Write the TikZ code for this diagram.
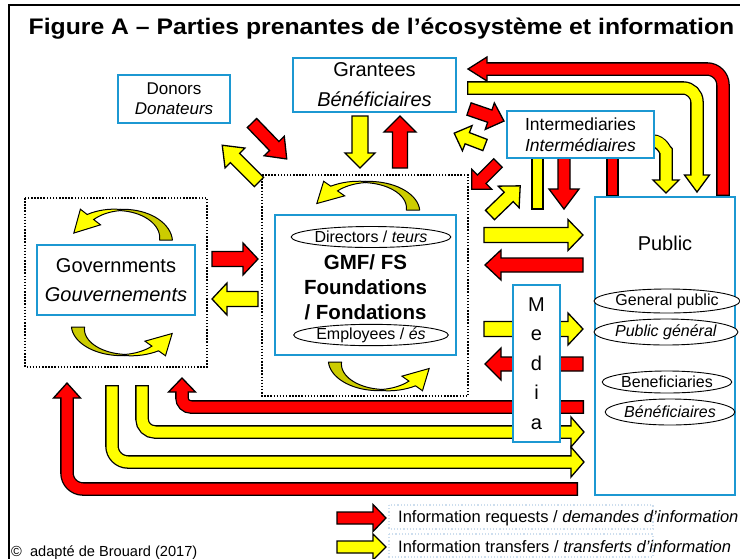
\documentclass[tikz,border=0pt]{standalone}
\usepackage{graphicx}
\usepackage{fontspec}
\setmainfont{Liberation Sans}
\usetikzlibrary{shapes.geometric}
\definecolor{boxblue}{RGB}{28,152,210}
\definecolor{aRed}{RGB}{255,0,0}
\definecolor{aYel}{RGB}{255,255,0}
\definecolor{aOlive}{RGB}{204,204,0}
\definecolor{legendbox}{RGB}{205,222,238}
\tikzset{
  box/.style={draw=boxblue, line width=2.2pt, fill=white, inner sep=0pt, align=center},
  zone/.style={draw, line width=1.6pt, dash pattern=on 1.5pt off 1.6pt},
  oval/.style={ellipse, draw, line width=0.9pt, inner sep=0pt, fill=white},
  ao/.style={draw=black, line width=1.3pt, line join=miter},
  eout/.style={draw=black, line width=13.6pt, rounded corners=#1},
  eout/.default=12,
  ein/.style={line width=11pt, rounded corners=#1, shorten <=1.3pt, shorten >=-1pt},
  ein/.default=12,
}
% straight block arrow: color, x, y (tail centre), angle, length, shaft width, head width, head length
\newcommand\barrow[8]{%
  \begin{scope}[shift={(#2,#3)}, rotate=#4]
    \filldraw[ao, fill=#1] (0,{-#6/2}) -- ({#5-#8},{-#6/2}) -- ({#5-#8},{-#7/2}) -- (#5,0)
      -- ({#5-#8},{#7/2}) -- ({#5-#8},{#6/2}) -- (0,{#6/2}) -- cycle;
  \end{scope}}
% arrow head: color, x, y (base centre), angle, width, length
\newcommand\ahead[6]{%
  \begin{scope}[shift={(#2,#3)}, rotate=#4]
    \filldraw[ao, fill=#1] (0,{-#5/2}) -- (#6,0) -- (0,{#5/2}) -- cycle;
  \end{scope}}
% curved (twisted) arrow: cx, cy, xscale, yscale
\newcommand\swirl[4]{%
  \begin{scope}[shift={(#1,#2)}, xscale=#3, yscale=#4]
    \filldraw[line width=1pt, fill=aOlive, line join=round]
      plot[domain=0:90, samples=19, variable=\t] ({(1.02+0.12*(1-\t/90))*cos(-\t)},{(1.02+0.12*(1-\t/90))*sin(-\t)})
      -- plot[domain=0:90, samples=19, variable=\t] ({(0.98-0.12*\t/90)*cos(\t-90)},{(0.98-0.12*\t/90)*sin(\t-90)})
      -- cycle;
    \filldraw[line width=1pt, fill=aYel, line join=miter]
      plot[domain=0:40, samples=9, variable=\t] ({(1.02+0.09*\t/40)*cos(-90-\t)},{(1.02+0.09*\t/40)*sin(-90-\t)})
      -- ({1.34*cos(-130)},{1.34*sin(-130)}) -- ({1.03*cos(-167)},{1.03*sin(-167)})
      -- ({0.66*cos(-130)},{0.66*sin(-130)})
      -- plot[domain=0:40, samples=9, variable=\t] ({(0.98-0.09*(40-\t)/40)*cos(\t-130)},{(0.98-0.09*(40-\t)/40)*sin(\t-130)})
      -- cycle;
  \end{scope}}

\begin{document}
\begin{tikzpicture}[x=1pt, y=-1pt]
\useasboundingbox (0,0) rectangle (740,558);
\fill[white] (0,0) rectangle (740,558);
% outer frame
\draw[line width=2pt] (9,562) -- (9,5) -- (745,5);

% title
\node[anchor=base, inner sep=0pt] (title) at (381.5,34)
  {\scalebox{1.1}[1]{\fontsize{22.5}{22.5}\selectfont\bfseries Figure A – Parties prenantes de l’écosystème et information}};

% dotted zones
\draw[zone] (25,198) rectangle (207,367);
\draw[zone] (262,175) rectangle (468,396);

% ---- top elbow arrows
\draw[eout=16] (723,196) -- (723,69) -- (487,69);
\ahead{aRed}{487}{69}{180}{24}{19}
\draw[ein=16, aRed] (723,196) -- (723,69) -- (487,69);

\draw[eout=14] (467,88) -- (697,88) -- (697,175);
\ahead{aYel}{697}{175}{-90}{25}{17}
\draw[ein=14, aYel] (467,88) -- (697,88) -- (697,175);

\draw[eout] (652,141) to[out=0,in=90] (666,163) -- (666,180);
\ahead{aYel}{666}{180}{-90}{26}{13}
\draw[ein, aYel] (652,141) to[out=0,in=90] (666,163) -- (666,180);

% bars under intermediaries
\filldraw[ao, fill=aYel] (532,158) rectangle (543,209);
\filldraw[ao, fill=aRed] (607,158) rectangle (618,196);
\barrow{aRed}{564}{158}{-90}{51}{12}{30}{20}

% diagonal arrows
\barrow{aRed}{252}{123}{-46}{50}{13}{28}{18}
\barrow{aYel}{259}{182}{135}{52}{13}{28}{18}
\barrow{aRed}{469}{109}{-19}{37}{13}{28}{15}
\barrow{aYel}{485}{145}{159}{33}{12}{27}{14}
\barrow{aRed}{498}{163}{-135}{37}{12}{28}{14}
\barrow{aYel}{490}{215}{44}{42}{13}{30}{16}

% grantees <-> foundations
\barrow{aYel}{360}{116}{-90}{52}{16}{30}{15}
\barrow{aRed}{400}{168}{90}{52}{15}{32}{16}

% governments <-> foundations
\barrow{aRed}{212}{259}{0}{46}{15}{32}{15}
\barrow{aYel}{258}{299}{180}{46}{15}{32}{15}

% foundations <-> public
\barrow{aYel}{484}{235}{0}{99}{15}{31}{15}
\barrow{aRed}{583}{265}{180}{98}{14}{30}{16}
\barrow{aYel}{484}{329}{0}{99}{15}{32}{15}
\barrow{aRed}{583}{364}{180}{98}{14}{32}{16}

% ---- bottom elbow arrows
\draw[eout=16] (578,489) -- (67,489) -- (67,398);
\ahead{aRed}{67}{398}{90}{27}{15}
\draw[ein=16, aRed] (578,489) -- (67,489) -- (67,398);

\draw[eout=16] (112,385) -- (112,462) -- (571,462);
\ahead{aYel}{571}{462}{0}{30}{13}
\draw[ein=16, aYel] (112,385) -- (112,462) -- (571,462);

\draw[eout=13] (142,385) -- (142,432) -- (571,432);
\ahead{aYel}{571}{432}{0}{30}{13}
\draw[ein=13, aYel] (142,385) -- (142,432) -- (571,432);

\draw[eout=9] (584,407) -- (182,407) -- (182,392);
\ahead{aRed}{182}{392}{90}{27}{14}
\draw[ein=9, aRed] (584,407) -- (182,407) -- (182,392);

% curved arrows
\swirl{120}{240}{46}{30}
\swirl{125}{327}{-47}{-28}
\swirl{365}{210}{48}{28}
\swirl{382}{362}{-47}{-28}

% ---- boxes
\node[box, minimum width=112pt, minimum height=48pt, font=\fontsize{17}{20}\selectfont] (donors) at (174,99) {Donors\\\textit{Donateurs}};
\node[box, minimum width=163pt, minimum height=54pt, font=\fontsize{20}{30}\selectfont] (grantees) at (374.5,85) {Grantees\\\textit{Bénéficiaires}};
\node[box, minimum width=147pt, minimum height=47pt, font=\fontsize{17.5}{21}\selectfont] (inter) at (580.5,134.5) {Intermediaries\\\textit{Intermédiaires}};
\node[box, minimum width=158pt, minimum height=70pt, font=\fontsize{20}{29}\selectfont] (gov) at (116,280) {Governments\\\textit{Gouvernements}};

\node[box, minimum width=181pt, minimum height=140pt] (found) at (365.5,285) {};
\node[oval, minimum width=135pt, minimum height=21pt, font=\fontsize{16}{16}\selectfont] (dir) at (371,237) {Directors / \textit{teurs}};
\node[font=\fontsize{20.5}{25}\selectfont\bfseries, align=center, inner sep=0pt] (fname) at (365.5,287) {GMF/ FS\\Foundations\\/ Fondations};
\node[oval, minimum width=135pt, minimum height=21pt, font=\fontsize{16}{16}\selectfont] (emp) at (371,335) {Employees / \textit{és}};

\node[box, minimum width=140pt, minimum height=298pt] (public) at (665,346) {};
\node[font=\fontsize{20}{20}\selectfont, inner sep=0pt] (publabel) at (665,243) {Public};
\node[oval, minimum width=121pt, minimum height=24pt, font=\fontsize{16}{16}\selectfont] (gp) at (667,301) {General public};
\node[oval, minimum width=122pt, minimum height=26pt, font=\fontsize{16}{16}\selectfont] (pg) at (666,332) {\textit{Public général}};
\node[oval, minimum width=121pt, minimum height=22pt, font=\fontsize{16}{16}\selectfont] (bf) at (667,382) {Beneficiaries};
\node[oval, minimum width=123pt, minimum height=26pt, font=\fontsize{16}{16}\selectfont] (bfr) at (670,412) {\textit{Bénéficiaires}};

\node[box, minimum width=47pt, minimum height=157pt, font=\fontsize{20}{29.5}\selectfont] (media) at (536.5,363.5) {M\\e\\d\\i\\a};

% ---- legend
\draw[legendbox, dotted, line width=1.2pt] (389,505) rectangle (653,529);
\draw[legendbox, dotted, line width=1.2pt] (389,534) rectangle (653,557);
\barrow{aRed}{337}{518}{0}{49}{12}{27}{13}
\barrow{aYel}{337}{547}{0}{49}{12}{26}{13}
\node[anchor=west, inner sep=0pt, font=\fontsize{16.5}{16.5}\selectfont] (lg1) at (398,518) {Information requests / \textit{demandes d’information}};
\node[anchor=west, inner sep=0pt, font=\fontsize{16.5}{16.5}\selectfont] (lg2) at (398,547) {Information transfers / \textit{transferts d’information}};

\node[anchor=base west, inner sep=0pt, font=\fontsize{14.6}{14.6}\selectfont] (copy) at (11,556) {©\ \ adapté de Brouard (2017)};
\end{tikzpicture}
\end{document}
